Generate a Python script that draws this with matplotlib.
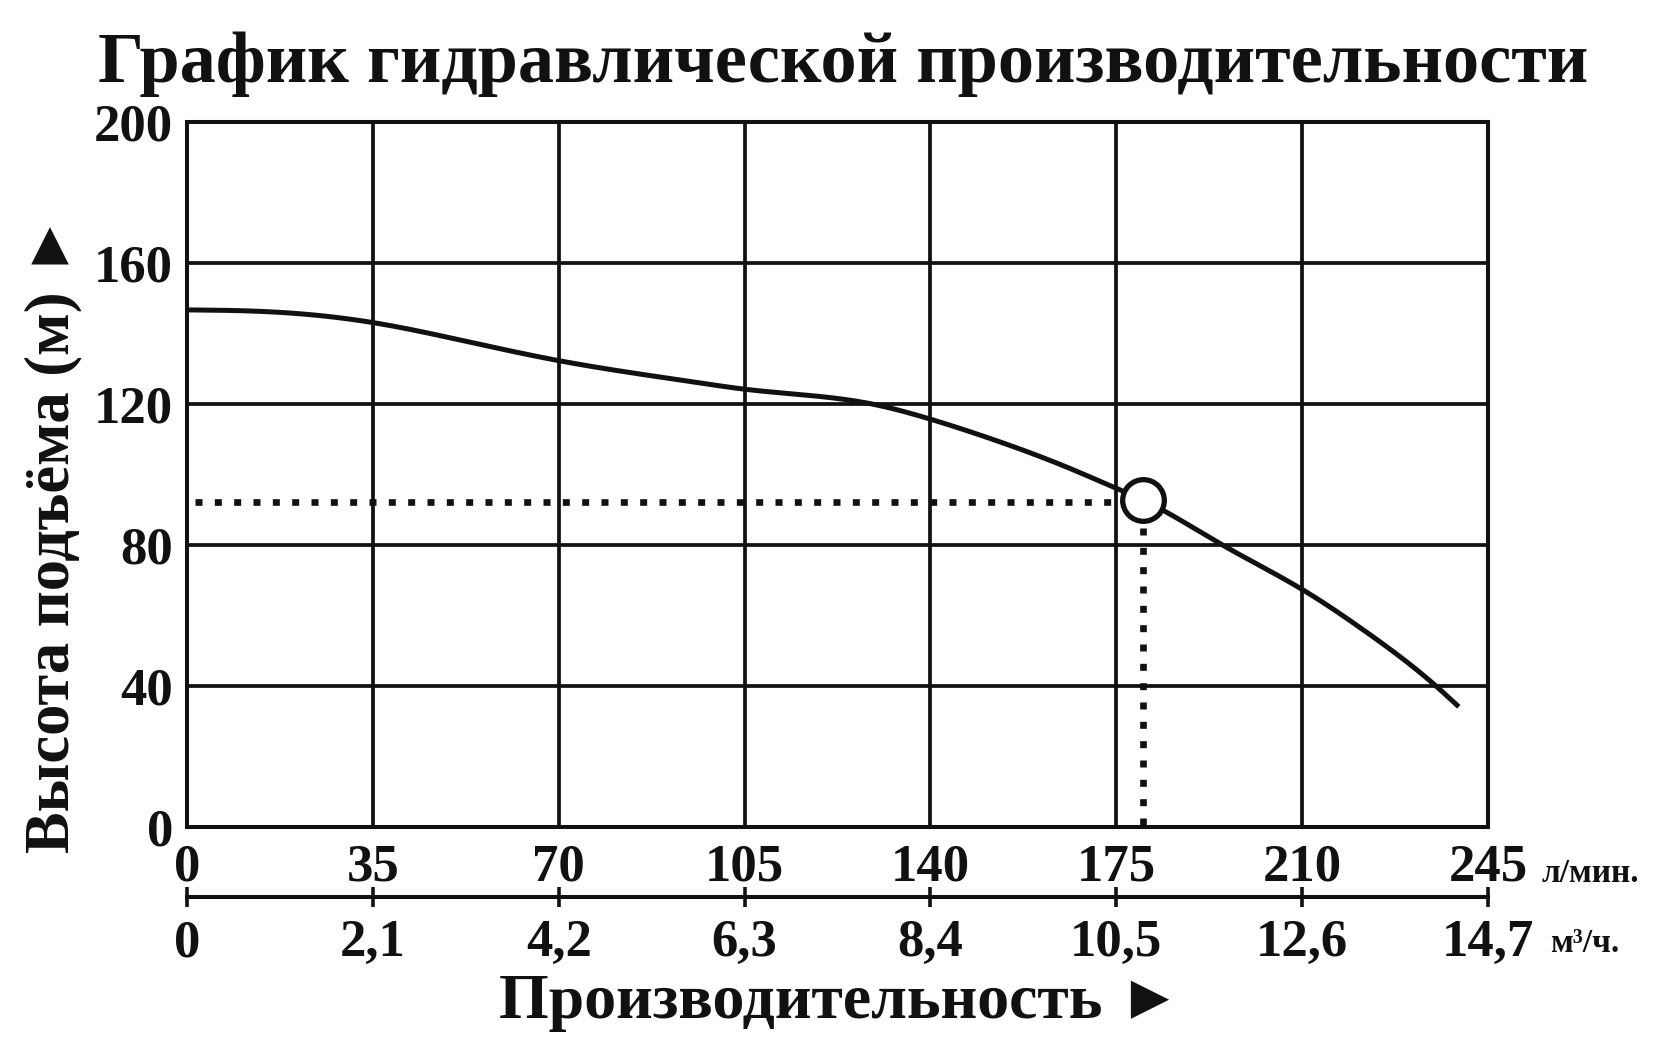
import matplotlib
matplotlib.use("Agg")
import matplotlib.pyplot as plt
import numpy as np

# data
flow_lpm = [0, 15, 35, 52.5, 70, 96.5, 105, 129, 140, 153, 165.5, 175, 180, 195, 210, 222, 235.2, 239.5]
head_m = [146.7, 146.2, 143.1, 137.8, 132.3, 126.0, 124.2, 120.0, 115.7, 109.3, 102.2, 96.1, 92.8, 80.0, 67.4, 55.4, 40.0, 34.1]
x_ticks_lpm = [0, 35, 70, 105, 140, 175, 210, 245]
x_labels_m3h = ["0", "2,1", "4,2", "6,3", "8,4", "10,5", "12,6", "14,7"]
y_ticks = [0, 40, 80, 120, 160, 200]
op_flow = 180
op_head = 92.8

W, H = 1662, 1059
fig = plt.figure(figsize=(W / 100, H / 100), dpi=100)
fam = ["Liberation Serif", "DejaVu Serif"]
famtri = ["Liberation Serif", "DejaVu Sans"]
plt.rcParams["font.family"] = fam
INK = "#111111"

L, R, B, T = 187, 1488, 827, 122
ax = fig.add_axes([L / W, 1 - B / H, (R - L) / W, (B - T) / H])
ax.set_xlim(0, 245)
ax.set_ylim(0, 200)

ax.set_xticks(x_ticks_lpm)
ax.set_yticks(y_ticks)
ax.grid(True, color=INK, lw=2.7)
for s in ax.spines.values():
    s.set_linewidth(2.9)
    s.set_color(INK)
ax.tick_params(axis="both", length=0, labelsize=38, colors=INK)
ax.tick_params(axis="x", pad=12)
ax.tick_params(axis="y", pad=10)
for lab in ax.get_xticklabels() + ax.get_yticklabels():
    lab.set_fontweight("bold")


def natural_spline(x, y, xn):
    n = len(x)
    h = np.diff(x)
    A = np.zeros((n, n))
    rhs = np.zeros(n)
    A[0, 0] = 1
    A[-1, -1] = 1
    for i in range(1, n - 1):
        A[i, i - 1] = h[i - 1]
        A[i, i] = 2 * (h[i - 1] + h[i])
        A[i, i + 1] = h[i]
        rhs[i] = 6 * ((y[i + 1] - y[i]) / h[i] - (y[i] - y[i - 1]) / h[i - 1])
    M = np.linalg.solve(A, rhs)
    idx = np.clip(np.searchsorted(x, xn) - 1, 0, n - 2)
    x0, x1 = x[idx], x[idx + 1]
    hi = h[idx]
    a = (x1 - xn) / hi
    b = (xn - x0) / hi
    return (a * y[idx] + b * y[idx + 1]
            + ((a**3 - a) * M[idx] + (b**3 - b) * M[idx + 1]) * hi**2 / 6)


xs = np.array(flow_lpm, dtype=float)
ys = np.array(head_m, dtype=float)
xf = np.linspace(xs[0], xs[-1], 600)
yf = natural_spline(xs, ys, xf)
ax.plot(xf, yf, color=INK, lw=3.6, solid_capstyle="butt", zorder=4)

# operating point dotted guides
dot = dict(color=INK, lw=4.8, linestyle=(0, (1.05, 1.85)), dash_capstyle="butt", zorder=3)
ax.plot([1.5, op_flow - 4], [op_head - 0.5, op_head - 0.5], **dot)
ax.plot([op_flow, op_flow], [op_head - 8, 0.6], **dot)
ax.plot([op_flow], [op_head], marker="o", ms=30, mfc="white", mec=INK, mew=3.8, zorder=5, clip_on=False)

# secondary axis (m3/h)
sec = ax.secondary_xaxis(-0.099)
sec.set_xticks(x_ticks_lpm)
sec.set_xticklabels(x_labels_m3h)
sec.spines["bottom"].set_linewidth(2.9)
sec.spines["bottom"].set_color(INK)
sec.tick_params(axis="x", direction="inout", length=14, width=2.6, labelsize=38, pad=9, colors=INK)
for lab in sec.get_xticklabels():
    lab.set_fontweight("bold")

# units
fig.text(1542 / W, 1 - 873 / H, "л/мин.", fontsize=24, fontweight="bold", ha="left", va="center", color=INK)
fig.text(1550 / W, 1 - 943 / H, "м³/ч.", fontsize=24, fontweight="bold", ha="left", va="center", color=INK)

# titles
fig.text(843 / W, 1 - 64 / H, "График гидравлической производительности",
         fontsize=52, fontweight="bold", ha="center", va="center", color=INK)
fig.text(840 / W, 1 - 1003 / H, "Производительность ►", fontsize=46, fontweight="bold",
         ha="center", va="center", color=INK, family=famtri)
fig.text(53 / W, 1 - 533 / H, "Высота подъёма (м) ►", fontsize=45, fontweight="bold",
         ha="center", va="center", rotation=90, color=INK, family=famtri)

fig.savefig("out.png", dpi=100, facecolor="white")
